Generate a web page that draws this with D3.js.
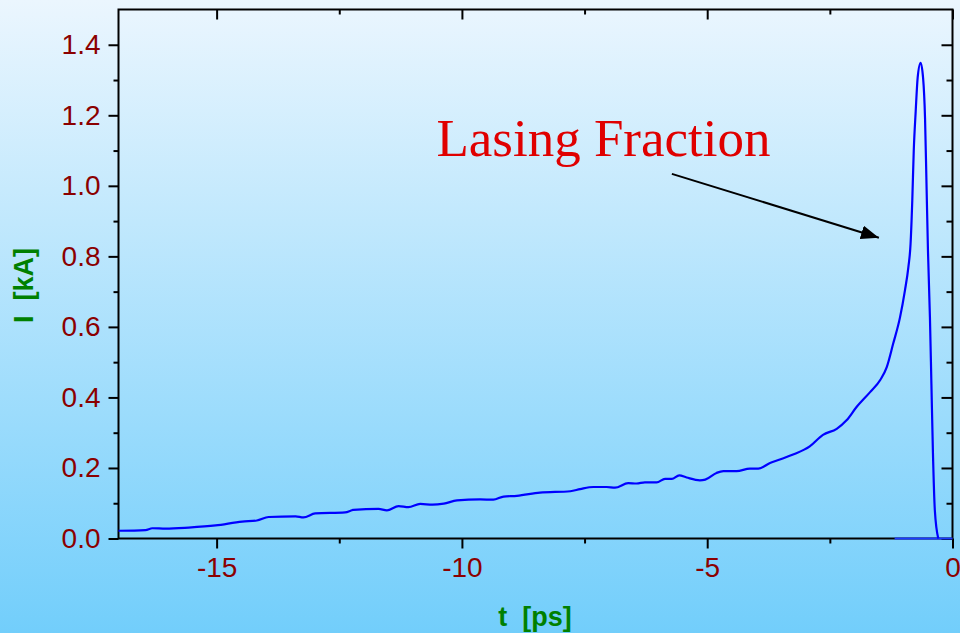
<!DOCTYPE html>
<html>
<head>
<meta charset="utf-8">
<script src="https://cdn.jsdelivr.net/npm/d3@7"></script>
<style>
  body { margin: 0; }
  svg { display: block; }
</style>
</head>
<body>
<div id="chart"></div>
<script>
// time in ps, current in kA
var tValues = [-17.00, -16.45, -16.31, -16.04, -15.57, -15.02, -14.48, -14.18, -13.94, -13.39,
  -13.23, -12.99, -12.38, -12.21, -11.70, -11.53, -11.29, -11.09, -10.85, -10.60,
  -10.37, -10.10, -9.63, -9.36, -9.15, -8.88, -8.41, -7.79, -7.59, -7.32,
  -7.05, -6.88, -6.61, -6.44, -6.27, -6.03, -5.86, -5.72, -5.57, -5.42,
  -5.15, -5.04, -4.81, -4.67, -4.40, -4.13, -3.96, -3.72, -3.52, -3.25,
  -2.91, -2.64, -2.36, -2.16, -1.96, -1.68, -1.47, -1.34, -1.21, -1.07,
  -0.97, -0.90, -0.855, -0.82, -0.79, -0.75, -0.71, -0.65, -0.60, -0.56,
  -0.53, -0.50, -0.46, -0.43, -0.40, -0.36, -0.29];
var currentValues = [0.022, 0.024, 0.029, 0.028, 0.031, 0.037, 0.048, 0.051, 0.061, 0.063,
  0.060, 0.071, 0.074, 0.081, 0.084, 0.080, 0.092, 0.089, 0.098, 0.096,
  0.099, 0.108, 0.111, 0.110, 0.119, 0.121, 0.130, 0.134, 0.140, 0.146,
  0.146, 0.144, 0.157, 0.156, 0.159, 0.159, 0.169, 0.169, 0.179, 0.173,
  0.165, 0.167, 0.186, 0.191, 0.191, 0.198, 0.198, 0.214, 0.224, 0.238,
  0.261, 0.294, 0.311, 0.335, 0.372, 0.415, 0.450, 0.486, 0.552, 0.627,
  0.703, 0.769, 0.835, 0.958, 1.099, 1.212, 1.307, 1.349, 1.307, 1.193,
  1.005, 0.816, 0.627, 0.439, 0.250, 0.080, 0.000];

// flat segment along zero at the end
var baseT = [-1.18, 0];
var baseI = [0, 0];

var xTicks = [-15, -10, -5, 0];
var yTicks = [0, 0.2, 0.4, 0.6, 0.8, 1.0, 1.2, 1.4];

var margin = { top: 9.5, right: 7.5, bottom: 94.5, left: 118.5 },
  W = 960, H = 633,
  width = W - margin.left - margin.right,
  height = H - margin.top - margin.bottom;

var svg = d3.select("#chart").append("svg")
  .attr("width", W)
  .attr("height", H);

var defs = svg.append("defs");
var grad = defs.append("linearGradient")
  .attr("id", "bg").attr("x1", 0).attr("y1", 0).attr("x2", 0).attr("y2", 1);
grad.append("stop").attr("offset", "0%").attr("stop-color", "#ebf6fe");
grad.append("stop").attr("offset", "100%").attr("stop-color", "#72cefb");

svg.append("rect").attr("width", W).attr("height", H).attr("fill", "url(#bg)");

var g = svg.append("g")
  .attr("transform", "translate(" + margin.left + "," + margin.top + ")");

var x = d3.scaleLinear().domain([-17, 0]).range([0, width]);
var y = d3.scaleLinear().domain([0, 1.5]).range([height, 0]);

var tickFont = "Liberation Sans, Arial, sans-serif";

function styleAxis(sel) {
  sel.select(".domain").remove();
  sel.selectAll("line").attr("stroke", "#000").attr("stroke-width", 2);
  sel.selectAll("text")
    .attr("fill", "#8b0000")
    .style("font-family", tickFont)
    .style("font-size", "28px");
}

// plain hyphen for negatives, like the original
function fmtX(d) { return String(d); }
function fmtY(d) { return d.toFixed(1); }

// minor ticks
var xMinor = [-17.5, -12.5, -7.5, -2.5].filter(function (d) { return d >= -17; });
var yMinor = d3.range(0.1, 1.5, 0.2);

g.append("g").attr("transform", "translate(0," + height + ")")
  .call(d3.axisBottom(x).tickValues(xMinor).tickSize(5).tickFormat(""))
  .call(styleAxis);
g.append("g").attr("transform", "translate(0," + height + ")")
  .call(d3.axisBottom(x).tickValues(xTicks).tickSize(10).tickPadding(9).tickFormat(fmtX))
  .call(styleAxis);

g.append("g")
  .call(d3.axisLeft(y).tickValues(yMinor).tickSize(5).tickFormat(""))
  .call(styleAxis);
g.append("g")
  .call(d3.axisLeft(y).tickValues(yTicks).tickSize(10).tickPadding(8).tickFormat(fmtY))
  .call(styleAxis);

// mirrored ticks on top and right, pointing inward
g.append("g")
  .call(d3.axisTop(x).tickValues(xMinor).tickSize(-5).tickFormat(""))
  .call(styleAxis);
g.append("g")
  .call(d3.axisTop(x).tickValues(xTicks).tickSize(-10).tickFormat(""))
  .call(styleAxis);
g.append("g").attr("transform", "translate(" + width + ",0)")
  .call(d3.axisRight(y).tickValues(yMinor).tickSize(-6).tickFormat(""))
  .call(styleAxis);
g.append("g").attr("transform", "translate(" + width + ",0)")
  .call(d3.axisRight(y).tickValues(yTicks).tickSize(-11).tickFormat(""))
  .call(styleAxis);

// frame
g.append("rect")
  .attr("width", width).attr("height", height)
  .attr("fill", "none").attr("stroke", "#000").attr("stroke-width", 2);

var line = d3.line()
  .x(function (d) { return x(d[0]); })
  .y(function (d) { return y(d[1]); })
  .curve(d3.curveMonotoneX);

g.append("path")
  .datum(d3.zip(baseT, baseI))
  .attr("fill", "none").attr("stroke", "#1a3cff").attr("stroke-width", 2)
  .attr("d", line);

g.append("path")
  .datum(d3.zip(tValues, currentValues))
  .attr("fill", "none").attr("stroke", "#0000ff").attr("stroke-width", 2.2)
  .attr("stroke-linejoin", "round")
  .attr("d", line);

// axis titles
svg.append("text")
  .attr("x", 535).attr("y", 626)
  .attr("text-anchor", "middle")
  .attr("fill", "#008000")
  .style("font-family", tickFont).style("font-size", "27px").style("font-weight", "bold")
  .style("white-space", "pre")
  .text("t  [ps]");

svg.append("text")
  .attr("transform", "translate(33,285.5) rotate(-90)")
  .attr("text-anchor", "middle")
  .attr("fill", "#008000")
  .style("font-family", tickFont).style("font-size", "27px").style("font-weight", "bold")
  .style("white-space", "pre")
  .text("I  [kA]");

// annotation
defs.append("marker")
  .attr("id", "arrow").attr("viewBox", "0 0 18 14")
  .attr("refX", 18).attr("refY", 7)
  .attr("markerWidth", 18).attr("markerHeight", 14)
  .attr("markerUnits", "userSpaceOnUse")
  .attr("orient", "auto")
  .append("path").attr("d", "M0,0L18,7L0,14z").attr("fill", "#000");

g.append("text")
  .attr("x", x(-10.52)).attr("y", y(1.085))
  .attr("fill", "#e00000")
  .style("font-family", "Liberation Serif, Times New Roman, serif")
  .style("font-size", "53px")
  .text("Lasing Fraction");

g.append("line")
  .attr("x1", x(-5.72)).attr("y1", y(1.034))
  .attr("x2", x(-1.50)).attr("y2", y(0.853))
  .attr("stroke", "#000").attr("stroke-width", 2)
  .attr("marker-end", "url(#arrow)");
</script>
</body>
</html>
